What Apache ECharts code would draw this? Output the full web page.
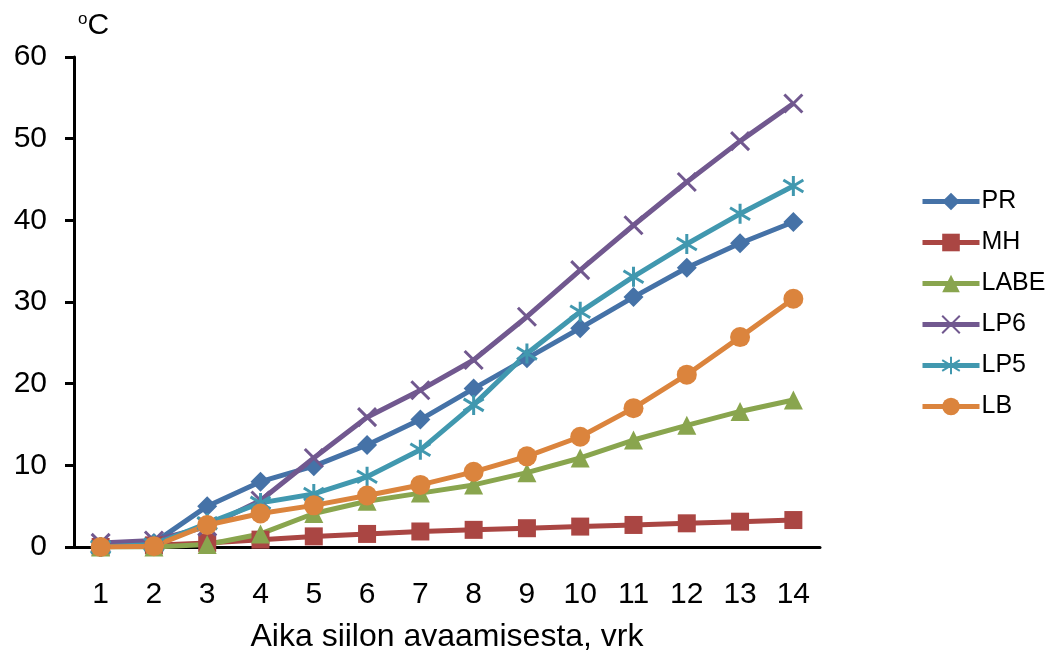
<!DOCTYPE html>
<html><head><meta charset="utf-8">
<script src="https://cdn.jsdelivr.net/npm/echarts@6/dist/echarts.min.js"></script>
<style>html,body{margin:0;padding:0;background:#fff;overflow:hidden}#c{width:1058px;height:660px}</style>
</head><body><div id="c"></div>
<script>
const categories = ['1','2','3','4','5','6','7','8','9','10','11','12','13','14'];
const PR   = [0, 0.5, 5.0, 8.0, 9.9, 12.5, 15.6, 19.4, 23.1, 26.8, 30.6, 34.2, 37.2, 39.8];
const MH   = [0, 0.2, 0.5, 0.9, 1.3, 1.6, 1.9, 2.1, 2.3, 2.5, 2.7, 2.9, 3.1, 3.3];
const LABE = [0, 0, 0.3, 1.6, 4.1, 5.6, 6.6, 7.6, 9.1, 10.9, 13.1, 14.9, 16.6, 18.0];
const LP6  = [0.5, 0.8, 2.5, 5.7, 10.9, 15.9, 19.2, 22.9, 28.2, 33.9, 39.4, 44.7, 49.7, 54.3];
const LP5  = [0, 0.3, 2.9, 5.4, 6.5, 8.6, 11.9, 17.4, 23.7, 28.8, 33.1, 37.1, 40.8, 44.2];
const LB   = [0, 0.1, 2.7, 4.1, 5.1, 6.3, 7.6, 9.2, 11.1, 13.5, 17.0, 21.1, 25.7, 30.4];
const yTicks = {min: 0, max: 60, interval: 10};

const font = 'Liberation Sans, Arial, sans-serif';
function mk(name, data, color, symbol, size, stroke) {
  const s = {
    name, type: 'line', data, symbol, symbolSize: size,
    lineStyle: {color, width: 5},
    itemStyle: {color},
    z: 2
  };
  if (stroke) {
    s.itemStyle = {color: 'rgba(0,0,0,0)', borderColor: color, borderWidth: 3};
  }
  return s;
}
const chart = echarts.init(document.getElementById('c'), null, {renderer: 'canvas'});
chart.setOption({
  animation: false,
  backgroundColor: '#fff',
  title: {
    text: '{sup|o}{c|C}', left: 73, top: 6,
    textStyle: {fontWeight: 'normal', rich: {
      sup: {fontSize: 17, fontFamily: font, color: '#000', verticalAlign: 'top', padding: [0,0,12,0]},
      c: {fontSize: 30, fontFamily: font, color: '#000'}
    }}
  },
  grid: {left: 74, right: 238, top: 57, bottom: 113, containLabel: false},
  legend: {
    orient: 'vertical', left: 915, top: 184,
    itemWidth: 57, itemHeight: 22, itemGap: 16,
    lineStyle: {width: 5},
    textStyle: {fontSize: 25, fontFamily: font, color: '#000', padding: [0,0,0,-3]},
    data: ['PR','MH','LABE','LP6','LP5','LB']
  },
  xAxis: {
    type: 'category', data: categories, boundaryGap: true,
    name: 'Aika siilon avaamisesta, vrk', nameLocation: 'middle', nameGap: 74,
    nameTextStyle: {fontSize: 32, fontFamily: font, color: '#000'},
    axisLine: {lineStyle: {color: '#000', width: 3}},
    axisTick: {inside: true, length: 9, lineStyle: {color: '#000', width: 3}, alignWithLabel: false},
    axisLabel: {fontSize: 30, fontFamily: font, color: '#000', margin: 33}
  },
  yAxis: {
    type: 'value', min: yTicks.min, max: yTicks.max, interval: yTicks.interval,
    axisLine: {show: true, lineStyle: {color: '#000', width: 3}},
    axisTick: {show: true, inside: false, length: 9, lineStyle: {color: '#000', width: 3}},
    splitLine: {show: false},
    axisLabel: {fontSize: 30, fontFamily: font, color: '#000', margin: 27}
  },
  series: [
    mk('PR', PR, '#4572A7', 'diamond', 20),
    mk('MH', MH, '#AA4643', 'rect', 18),
    mk('LABE', LABE, '#89A54E', 'triangle', 19),
    mk('LP6', LP6, '#71588F', 'path://M0 0L20 20M20 0L0 20', 18, true),
    mk('LP5', LP5, '#4198AF', 'path://M10 0L10 20M1 4L19 16M1 16L19 4', 20, true),
    mk('LB', LB, '#DB843D', 'circle', 20)
  ]
});
</script></body></html>
